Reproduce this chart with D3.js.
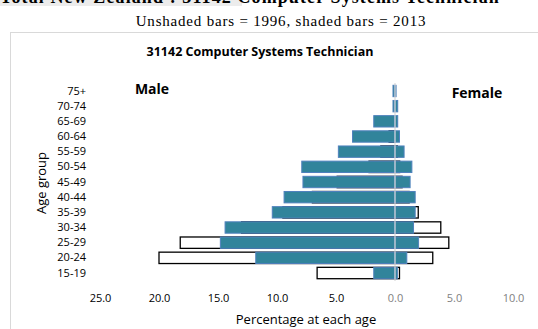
<!DOCTYPE html>
<html>
<head>
<meta charset="utf-8">
<script src="https://cdn.jsdelivr.net/npm/d3@7"></script>
<style>
  body { margin: 0; background: #fff; }
  svg { display: block; }
</style>
</head>
<body>
<svg id="chart" width="538" height="329"></svg>
<script>
// age groups, top row first
const ageGroups = ['75+', '70-74', '65-69', '60-64', '55-59', '50-54', '45-49',
  '40-44', '35-39', '30-34', '25-29', '20-24', '15-19'];

// percentages at each age (2013 = shaded, 1996 = unshaded)
const male2013 = [0.17, 0.17, 1.8, 3.6, 4.8, 7.9, 7.8, 9.4, 10.4, 14.4, 14.8, 11.8, 1.8];
const female2013 = [0.09, 0.23, 0.23, 0.38, 0.77, 1.43, 1.28, 1.71, 1.71, 1.57, 2.0, 1.0, 0.2];
const male1996 = [0, 0, 0, 0.5, 1.2, 2.2, 4.9, 7.0, 9.5, 13.0, 18.2, 20.0, 6.6];
const female1996 = [0, 0, 0, 0, 0.2, 0.4, 0.6, 1.2, 1.97, 3.88, 4.56, 3.2, 0.38];

const tickValues = [-25, -20, -15, -10, -5, 0, 5, 10];

const svg = d3.select('#chart');
const sans = "'Open Sans', 'DejaVu Sans', sans-serif";
const serif = "'Liberation Serif', 'DejaVu Serif', serif";

// page heading (cut at the top like the source page)
svg.append('rect')
  .attr('x', 0).attr('y', 0).attr('width', 242).attr('height', 6)
  .attr('fill', '#ececec');
svg.append('text')
  .attr('x', 0).attr('y', 3)
  .attr('font-family', serif).attr('font-weight', 'bold').attr('font-size', 18)
  .attr('letter-spacing', 1.1)
  .text('Total New Zealand : 31142 Computer Systems Technician');

svg.append('text')
  .attr('x', 281).attr('y', 26)
  .attr('text-anchor', 'middle')
  .attr('font-family', serif).attr('font-size', 15)
  .attr('letter-spacing', 0.8)
  .text('Unshaded bars = 1996, shaded bars = 2013');

// chart frame
svg.append('rect')
  .attr('x', 10.5).attr('y', 32.5).attr('width', 600).attr('height', 400)
  .attr('fill', '#fff').attr('stroke', '#d9d9d9');

svg.append('text')
  .attr('x', 260).attr('y', 56)
  .attr('text-anchor', 'middle')
  .attr('font-family', sans).attr('font-weight', 'bold').attr('font-size', 12.5)
  .text('31142 Computer Systems Technician');

const x = d3.scaleLinear().domain([-25, 10]).range([100, 513]);
const y = d3.scaleBand().domain(ageGroups).range([83.4, 280.6])
  .paddingInner(0.25).paddingOuter(0.125);

const rows = ageGroups.map((g, i) => ({
  g,
  m96: male1996[i], f96: female1996[i],
  m13: male2013[i], f13: female2013[i]
}));

// 1996 outlines behind
const g96 = svg.append('g');
g96.selectAll('rect.m96').data(rows).enter().append('rect')
  .attr('x', d => x(-d.m96)).attr('y', d => y(d.g))
  .attr('width', d => x(0) - x(-d.m96)).attr('height', y.bandwidth())
  .attr('fill', '#fff').attr('stroke', '#000').attr('stroke-width', 1.3)
  .attr('display', d => d.m96 > 0 ? null : 'none');
g96.selectAll('rect.f96').data(rows).enter().append('rect')
  .attr('x', x(0)).attr('y', d => y(d.g))
  .attr('width', d => x(d.f96) - x(0)).attr('height', y.bandwidth())
  .attr('fill', '#fff').attr('stroke', '#000').attr('stroke-width', 1.3)
  .attr('display', d => d.f96 > 0 ? null : 'none');

// 2013 shaded bars
const g13 = svg.append('g');
g13.selectAll('rect.m13').data(rows).enter().append('rect')
  .attr('x', d => x(-d.m13)).attr('y', d => y(d.g))
  .attr('width', d => x(0) - x(-d.m13)).attr('height', y.bandwidth())
  .attr('fill', '#31849b').attr('stroke', '#4f81bd').attr('stroke-width', 1);
g13.selectAll('rect.f13').data(rows).enter().append('rect')
  .attr('x', x(0)).attr('y', d => y(d.g))
  .attr('width', d => x(d.f13) - x(0)).attr('height', y.bandwidth())
  .attr('fill', '#31849b').attr('stroke', '#4f81bd').attr('stroke-width', 1);

// zero line
svg.append('line')
  .attr('x1', x(0)).attr('x2', x(0)).attr('y1', 83).attr('y2', 281)
  .attr('stroke', '#d9d9d9').attr('stroke-width', 1.2);

// age labels
const yAxis = svg.append('g')
  .attr('transform', 'translate(86,0)')
  .call(d3.axisLeft(y).tickSize(0).tickPadding(0));
yAxis.select('.domain').remove();
yAxis.selectAll('text')
  .attr('font-family', sans).attr('font-size', 11).attr('fill', '#000');

// percentage axis
const xAxis = svg.append('g')
  .attr('transform', 'translate(0,294)')
  .call(d3.axisBottom(x).tickValues(tickValues).tickSize(0).tickPadding(0)
    .tickFormat(d => Math.abs(d).toFixed(1)));
xAxis.select('.domain').remove();
xAxis.selectAll('text')
  .attr('font-family', sans).attr('font-size', 11)
  .attr('fill', d => d < 0 ? '#000' : '#7f7f7f');

svg.append('text')
  .attr('x', 306).attr('y', 324)
  .attr('text-anchor', 'middle')
  .attr('font-family', sans).attr('font-size', 13)
  .text('Percentage at each age');

svg.append('text')
  .attr('transform', 'translate(46,183) rotate(-90)')
  .attr('text-anchor', 'middle')
  .attr('font-family', sans).attr('font-size', 13)
  .text('Age group');

svg.append('text')
  .attr('x', 152).attr('y', 94)
  .attr('text-anchor', 'middle')
  .attr('font-family', sans).attr('font-weight', 'bold').attr('font-size', 14)
  .text('Male');
svg.append('text')
  .attr('x', 477).attr('y', 98)
  .attr('text-anchor', 'middle')
  .attr('font-family', sans).attr('font-weight', 'bold').attr('font-size', 14)
  .text('Female');
</script>
</body>
</html>
